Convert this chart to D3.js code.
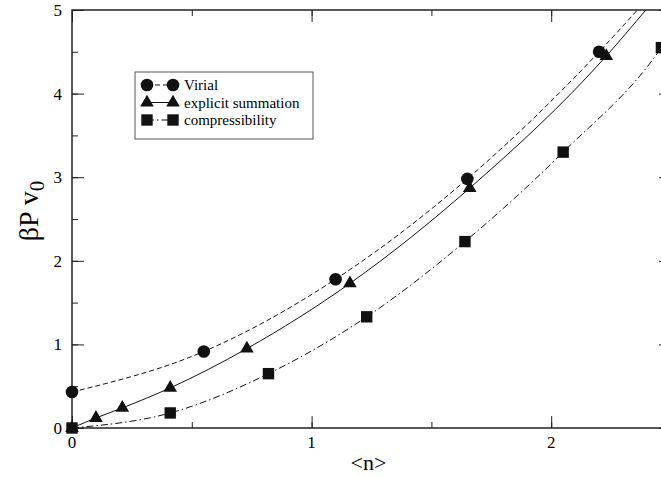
<!DOCTYPE html>
<html>
<head>
<meta charset="utf-8">
<script src="https://cdn.jsdelivr.net/npm/d3@7"></script>
<style>
  body { margin: 0; background: #fff; }
  svg { display: block; font-family: "Liberation Serif", "DejaVu Serif", serif; }
</style>
</head>
<body>
<div id="chart"></div>
<script>
// series
var virialX = [0, 0.55, 1.10, 1.65, 2.20];
var virialY = [0.43, 0.915, 1.78, 2.98, 4.50];
var sumX = [0, 0.10, 0.21, 0.41, 0.73, 1.16, 1.66, 2.23];
var sumY = [0, 0.12, 0.24, 0.48, 0.95, 1.73, 2.87, 4.45];
var compX = [0, 0.41, 0.82, 1.23, 1.64, 2.05, 2.46];
var compY = [0, 0.18, 0.65, 1.33, 2.23, 3.30, 4.55];

// where each fitted curve leaves the frame
var virialFitEnd = [2.36, 5.0];
var sumFitEnd = [2.395, 5.0];
var compFitEnd = [2.5, 4.72];

var xTicks = [0, 1, 2];
var yTicks = [0, 1, 2, 3, 4, 5];
var legendLabels = ["Virial", "explicit summation", "compressibility"];

var width = 661, height = 477;
var margin = { top: 10, right: -10, bottom: 49, left: 72 };
var w = width - margin.left - margin.right,
    h = height - margin.top - margin.bottom;

var svg = d3.select("#chart").append("svg")
    .attr("width", width)
    .attr("height", height);

var g = svg.append("g")
    .attr("transform", "translate(" + margin.left + "," + margin.top + ")");

var x = d3.scaleLinear().domain([0, 2.5]).range([0, w]);
var y = d3.scaleLinear().domain([0, 5]).range([h, 0]);

g.append("clipPath").attr("id", "plotclip")
  .append("rect").attr("width", w).attr("height", h);

var xMinor = d3.range(0, 2.51, 0.5);
var yMinor = d3.range(0, 5.01, 0.5);

// inward ticks on all four sides
function tickAxis(axisFn, scale, vals, size) {
    return axisFn(scale).tickValues(vals).tickSize(size).tickFormat("");
}
var axes = [
    [d3.axisBottom, x, "translate(0," + h + ")", -12, -6],
    [d3.axisTop, x, "translate(0,0)", -12, -6],
    [d3.axisLeft, y, "translate(0,0)", -12, -6],
    [d3.axisRight, y, "translate(" + w + ",0)", -12, -6]
];
axes.forEach(function (a) {
    var isX = a[1] === x;
    var major = isX ? xTicks : yTicks;
    var minor = isX ? xMinor : yMinor;
    var ga = g.append("g").attr("transform", a[2]).call(tickAxis(a[0], a[1], minor, a[4]));
    ga.select(".domain").remove();
    ga.selectAll("line").attr("stroke", "#222").attr("stroke-width", 1);
    var gb = g.append("g").attr("transform", a[2]).call(tickAxis(a[0], a[1], major, a[3]));
    gb.select(".domain").remove();
    gb.selectAll("line").attr("stroke", "#222").attr("stroke-width", 1);
});

g.append("rect")
    .attr("width", w).attr("height", h)
    .attr("fill", "none").attr("stroke", "#222").attr("stroke-width", 1.5);

g.selectAll(".xlab").data(xTicks).enter().append("text")
    .attr("x", function (d) { return x(d); })
    .attr("y", h + 20)
    .attr("text-anchor", "middle")
    .style("font-size", "17px")
    .text(function (d) { return d; });

g.selectAll(".ylab").data(yTicks).enter().append("text")
    .attr("x", -10)
    .attr("y", function (d) { return y(d) + 6; })
    .attr("text-anchor", "end")
    .style("font-size", "17px")
    .text(function (d) { return d; });

g.append("text")
    .attr("x", x(1.237))
    .attr("y", h + 42)
    .attr("text-anchor", "middle")
    .style("font-size", "22px")
    .text("<n>");

var yt = svg.append("text")
    .attr("transform", "translate(38,211) rotate(-90)")
    .attr("text-anchor", "middle")
    .style("font-size", "28px");
yt.append("tspan").text("βP v");
yt.append("tspan").attr("dy", 6).style("font-size", "21px").text("0");

function pts(xs, ys) { return xs.map(function (d, i) { return [d, ys[i]]; }); }

var line = d3.line()
    .x(function (d) { return x(d[0]); })
    .y(function (d) { return y(d[1]); })
    .curve(d3.curveMonotoneX);

var series = [
    { data: pts(virialX, virialY), end: virialFitEnd, dash: "5,3", sym: d3.symbolCircle, size: 125 },
    { data: pts(sumX, sumY), end: sumFitEnd, dash: null, sym: d3.symbolTriangle, size: 80 },
    { data: pts(compX, compY), end: compFitEnd, dash: "7,3,1.5,3", sym: d3.symbolSquare, size: 130 }
];

var lines = g.append("g").attr("clip-path", "url(#plotclip)");
series.forEach(function (s) {
    lines.append("path")
        .datum(s.data.concat([s.end]))
        .attr("d", line)
        .attr("fill", "none")
        .attr("stroke", "#111")
        .attr("stroke-width", 1)
        .attr("stroke-dasharray", s.dash);
});

series.forEach(function (s) {
    g.selectAll(null).data(s.data).enter().append("path")
        .attr("transform", function (d) { return "translate(" + x(d[0]) + "," + y(d[1]) + ")"; })
        .attr("d", d3.symbol().type(s.sym).size(s.size))
        .attr("fill", "#111");
});

// legend
var leg = svg.append("g").attr("transform", "translate(135,72)");
leg.append("rect")
    .attr("width", 178).attr("height", 67)
    .attr("fill", "#fff").attr("stroke", "#555").attr("stroke-width", 1);

series.forEach(function (s, i) {
    var ly = 13 + i * 17.5;
    leg.append("line")
        .attr("x1", 12).attr("x2", 38).attr("y1", ly).attr("y2", ly)
        .attr("stroke", "#111").attr("stroke-width", 1)
        .attr("stroke-dasharray", s.dash);
    [12, 38].forEach(function (lx) {
        leg.append("path")
            .attr("transform", "translate(" + lx + "," + ly + ")")
            .attr("d", d3.symbol().type(s.sym).size(s.size))
            .attr("fill", "#111");
    });
    leg.append("text")
        .attr("x", 49).attr("y", ly + 5)
        .style("font-size", "15px")
        .text(legendLabels[i]);
});
</script>
</body>
</html>
